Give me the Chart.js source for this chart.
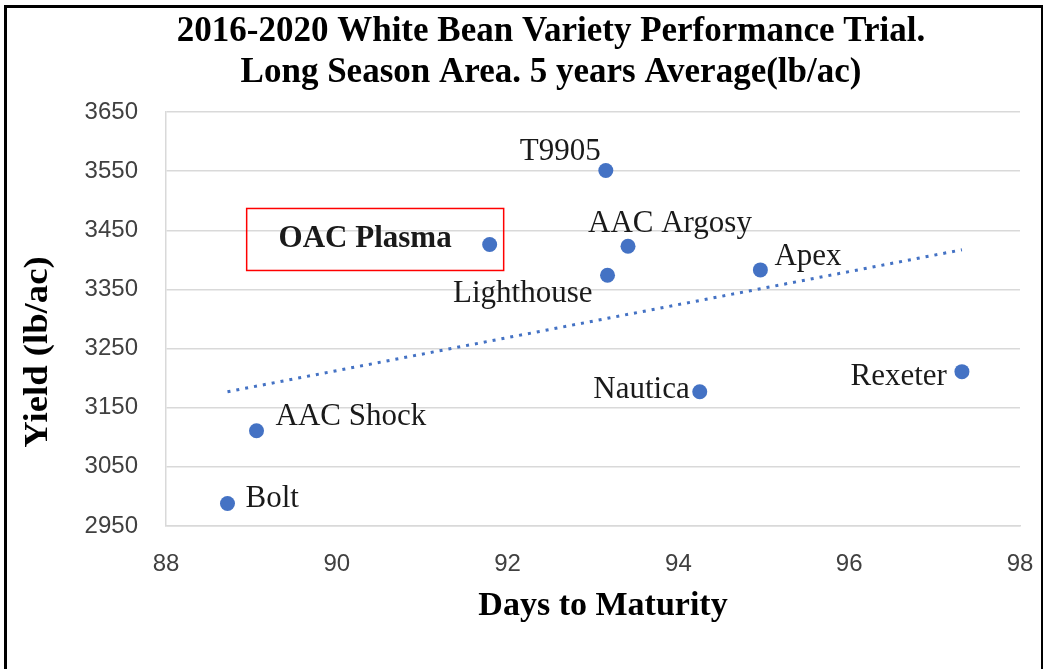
<!DOCTYPE html>
<html>
<head>
<meta charset="utf-8">
<script src="https://cdn.jsdelivr.net/npm/chart.js@4.4.1/dist/chart.umd.min.js"></script>
<style>
  html, body { margin: 0; padding: 0; background: #ffffff; }
  #wrap { position: relative; width: 1043px; height: 669px; overflow: hidden; }
  #c { position: absolute; left: 0; top: 0; }
  #frame { position: absolute; left: 4px; top: 5px; width: 1034px; height: 700px;
           border-left: 3px solid #000; border-top: 3px solid #000; border-right: 2px solid #000;
           pointer-events: none; }
</style>
</head>
<body>
<div id="wrap">
  <canvas id="c" width="1043" height="669"></canvas>
  <div id="frame"></div>
</div>
<script>
// ---- data ----
const varieties = ['Bolt', 'AAC Shock', 'OAC Plasma', 'T9905', 'AAC Argosy', 'Lighthouse', 'Apex', 'Nautica', 'Rexeter'];
const daysToMaturity = [88.72, 89.06, 91.79, 93.15, 93.41, 93.17, 94.96, 94.25, 97.32];
const yieldLbAc = [2988, 3111, 3426, 3551, 3423, 3374, 3383, 3177, 3211];
// linear trendline end points
const trendDays = [88.72, 97.32];
const trendYield = [3177, 3417];
const titleLines = ['2016-2020 White Bean Variety Performance Trial.', 'Long Season Area. 5 years Average(lb/ac)'];
const xTitle = 'Days to Maturity';
const yTitle = 'Yield (lb/ac)';

// ---- label placement (styling, pixel offsets from each point) ----
const labelStyle = {
  'Bolt':       { dx: 18,  dy: -5,  align: 'left' },
  'AAC Shock':  { dx: 19,  dy: -14, align: 'left' },
  'OAC Plasma': { dx: -38, dy: -5,  align: 'right', bold: true },
  'T9905':      { dx: -5,  dy: -19, align: 'right' },
  'AAC Argosy': { dx: -40, dy: -22, align: 'left' },
  'Lighthouse': { dx: -15, dy: 19,  align: 'right' },
  'Apex':       { dx: 14,  dy: -13, align: 'left' },
  'Nautica':    { dx: -10, dy: -2,  align: 'right' },
  'Rexeter':    { dx: -15, dy: 5,   align: 'right' }
};
const highlightBox = { name: 'OAC Plasma', left: -243, top: -36, right: 14, bottom: 26 };

const SERIF = "'Liberation Serif', 'Times New Roman', serif";
const SANS = "'Liberation Sans', Arial, sans-serif";
const BLUE = '#4472C4';

const scatterPoints = daysToMaturity.map((d, i) => ({ x: d, y: yieldLbAc[i] }));
const trendPoints = trendDays.map((d, i) => ({ x: d, y: trendYield[i] }));

const labelPlugin = {
  id: 'pointLabels',
  afterDatasetsDraw(chart) {
    const ctx = chart.ctx;
    const meta = chart.getDatasetMeta(1);
    ctx.save();
    meta.data.forEach((el, i) => {
      const name = varieties[i];
      const s = labelStyle[name];
      ctx.font = (s.bold ? 'bold ' : '') + '31px ' + SERIF;
      ctx.fillStyle = '#1a1a1a';
      ctx.textAlign = s.align;
      ctx.textBaseline = 'middle';
      ctx.fillText(name, el.x + s.dx, el.y + s.dy);
      if (name === highlightBox.name) {
        ctx.strokeStyle = '#ff0000';
        ctx.lineWidth = 1.5;
        ctx.strokeRect(el.x + highlightBox.left, el.y + highlightBox.top,
                       highlightBox.right - highlightBox.left, highlightBox.bottom - highlightBox.top);
      }
    });
    ctx.restore();
  }
};

const titlePlugin = {
  id: 'titles',
  afterDraw(chart) {
    const ctx = chart.ctx;
    ctx.save();
    ctx.fillStyle = '#000';
    ctx.textAlign = 'center';
    ctx.textBaseline = 'middle';
    ctx.font = 'bold 35px ' + SERIF;
    ctx.fillText(titleLines[0], 551, 32);
    ctx.fillText(titleLines[1], 551, 73);
    ctx.font = 'bold 34px ' + SERIF;
    ctx.fillText(xTitle, 603, 606);
    ctx.translate(38, 352);
    ctx.rotate(-Math.PI / 2);
    ctx.scale(1.08, 1);
    ctx.font = 'bold 34px ' + SERIF;
    ctx.fillText(yTitle, 0, 0);
    ctx.restore();
  }
};

new Chart(document.getElementById('c'), {
  type: 'scatter',
  data: {
    datasets: [
      {
        type: 'line',
        label: 'Linear trend',
        data: trendPoints,
        borderColor: BLUE,
        borderWidth: 3,
        borderDash: [3, 6],
        pointRadius: 0,
        fill: false,
        order: 2
      },
      {
        label: 'Varieties',
        data: scatterPoints,
        backgroundColor: BLUE,
        borderWidth: 0,
        pointRadius: 7.5,
        order: 1
      }
    ]
  },
  options: {
    responsive: false,
    animation: false,
    layout: { padding: { left: 5, right: 23, top: 112, bottom: 0 } },
    plugins: {
      legend: { display: false },
      tooltip: { enabled: false },
      title: { display: false }
    },
    scales: {
      x: {
        type: 'linear',
        min: 88, max: 98,
        afterFit(scale) { scale.height = 143; scale.paddingRight = 0; scale.paddingLeft = 0; },
        ticks: { stepSize: 2, color: '#404040', font: { family: SANS, size: 24 }, padding: 24, maxRotation: 0,
                 callback: (v) => String(v) },
        grid: { display: false, drawTicks: false },
        border: { display: true, color: '#d9d9d9', width: 1.5 }
      },
      y: {
        type: 'linear',
        min: 2950, max: 3650,
        afterFit(scale) { scale.width = 161; scale.paddingTop = 0; scale.paddingBottom = 0; },
        ticks: { stepSize: 100, color: '#404040', font: { family: SANS, size: 24 }, padding: 28,
                 callback: (v) => String(v) },
        grid: { color: '#d9d9d9', lineWidth: 1.5, drawTicks: false },
        border: { display: true, color: '#d9d9d9', width: 1.5 }
      }
    }
  },
  plugins: [labelPlugin, titlePlugin]
});
</script>
</body>
</html>
